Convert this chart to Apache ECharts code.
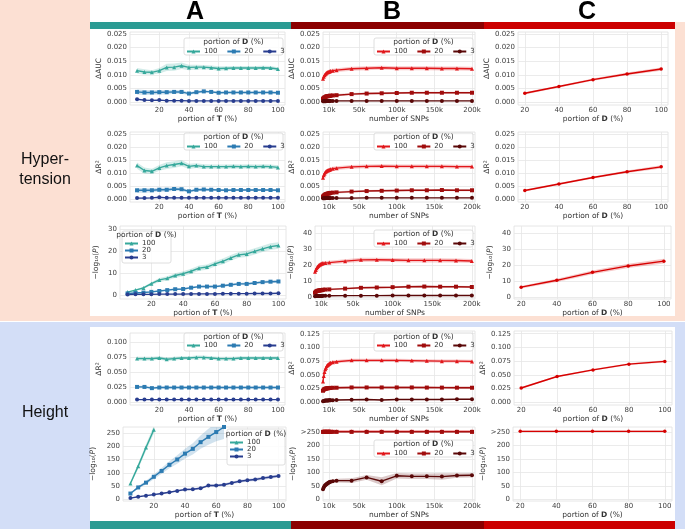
<!DOCTYPE html>
<html><head><meta charset="utf-8">
<script src="https://cdn.jsdelivr.net/npm/echarts@6/dist/echarts.min.js"></script>
<style>html,body{margin:0;padding:0;background:#fff}#c{width:685px;height:529px}</style>
</head><body><div id="c"></div><script>
// ---------------- DATA ----------------
const portionT = [5,10,15,20,25,30,35,40,45,50,55,60,65,70,75,80,85,90,95,100];
const snpsK = [2,3,4,5,6,7,8,9,10,11,12,15,20,40,60,80,100,120,140,160,180,200];
const portionD = [20,40,60,80,100];
const legendLabels = ['100','20','3'];
const xTicksT = [20,40,60,80,100];
const xTicksS = [10,50,100,150,200];
const xTicksD = [20,40,60,80,100];
const yTicksSmall = [0,0.005,0.01,0.015,0.02,0.025];
const yTicksP30 = [0,10,20,30];
const yTicksP40 = [0,10,20,30,40];
const yTicksH100 = [0,0.025,0.05,0.075,0.1];
const yTicksH125 = [0,0.025,0.05,0.075,0.1,0.125];
const yTicksHP = [0,50,100,150,200,250];

// Hypertension, column A (x = portion of T)
const aucA100 = [0.0115,0.0110,0.0109,0.0115,0.0127,0.0128,0.0133,0.0127,0.0128,0.0128,0.0126,0.0123,0.0124,0.0125,0.0125,0.0125,0.0125,0.0126,0.0125,0.0121];
const aucA100ci = [0.0010,0.0010,0.0008,0.0010,0.0013,0.0013,0.0012,0.0010,0.0009,0.0008,0.0008,0.0008,0.0007,0.0007,0.0007,0.0007,0.0007,0.0007,0.0007,0.0007];
const aucA20 = [0.0037,0.0035,0.0035,0.0036,0.0036,0.0037,0.0037,0.0031,0.0036,0.0039,0.0037,0.0034,0.0035,0.0035,0.0035,0.0035,0.0035,0.0035,0.0035,0.0034];
const aucA20ci = [0.0009,0.0009,0.0008,0.0008,0.0008,0.0007,0.0007,0.0005,0.0005,0.0005,0.0004,0.0004,0.0004,0.0004,0.0004,0.0004,0.0004,0.0004,0.0004,0.0004];
const aucA3 = [0.0010,0.0007,0.0006,0.0007,0.0005,0.0005,0.0005,0.0004,0.0004,0.0004,0.0004,0.0004,0.0004,0.0004,0.0004,0.0004,0.0004,0.0004,0.0004,0.0004];
const aucA3ci = [0.0003,0.0002,0.0002,0.0002,0.0002,0.0002,0.0002,0.0001,0.0001,0.0001,0.0001,0.0001,0.0001,0.0001,0.0001,0.0001,0.0001,0.0001,0.0001,0.0001];

const r2A100 = [0.0129,0.0110,0.0107,0.0120,0.0129,0.0133,0.0138,0.0126,0.0129,0.0125,0.0125,0.0125,0.0125,0.0126,0.0125,0.0126,0.0125,0.0126,0.0125,0.0122];
const r2A100ci = [0.0012,0.0012,0.0010,0.0011,0.0013,0.0013,0.0012,0.0010,0.0009,0.0009,0.0008,0.0008,0.0008,0.0008,0.0008,0.0008,0.0008,0.0008,0.0008,0.0008];
const r2A20 = [0.0034,0.0034,0.0034,0.0036,0.0036,0.0039,0.0038,0.0030,0.0036,0.0037,0.0036,0.0035,0.0034,0.0035,0.0035,0.0035,0.0035,0.0035,0.0035,0.0034];
const r2A20ci = [0.0009,0.0009,0.0008,0.0008,0.0008,0.0007,0.0007,0.0005,0.0005,0.0005,0.0004,0.0004,0.0004,0.0004,0.0004,0.0004,0.0004,0.0004,0.0004,0.0004];
const r2A3 = [0.0004,0.0004,0.0005,0.0007,0.0005,0.0005,0.0005,0.0005,0.0005,0.0005,0.0005,0.0005,0.0005,0.0005,0.0005,0.0005,0.0005,0.0005,0.0005,0.0005];
const r2A3ci = [0.0002,0.0002,0.0002,0.0002,0.0002,0.0002,0.0002,0.0001,0.0001,0.0001,0.0001,0.0001,0.0001,0.0001,0.0001,0.0001,0.0001,0.0001,0.0001,0.0001];

const pA100 = [1.5,2.4,3.4,5.3,7.0,7.7,9.0,9.8,10.9,12.3,12.8,14.2,15.4,16.9,18.3,18.7,19.9,21.0,22.0,22.5];
const pA100ci = [0.3,0.4,0.5,0.7,0.9,1.0,1.0,1.1,1.1,1.2,1.2,1.2,1.3,1.3,1.3,1.4,1.4,1.4,1.5,1.5];
const pA20 = [0.9,1.1,1.3,1.6,2.0,2.4,2.8,2.9,3.5,4.0,4.0,4.0,4.4,4.8,5.2,5.2,5.6,6.0,6.2,6.3];
const pA20ci = [0.2,0.2,0.3,0.3,0.3,0.4,0.4,0.4,0.4,0.5,0.5,0.5,0.5,0.5,0.5,0.6,0.6,0.6,0.6,0.6];
const pA3 = [0.4,0.5,0.5,0.5,0.6,0.6,0.6,0.6,0.7,0.7,0.7,0.7,0.8,0.8,0.8,0.8,0.9,0.9,0.9,1.0];
const pA3ci = [0.15,0.15,0.15,0.15,0.15,0.15,0.15,0.15,0.15,0.15,0.15,0.15,0.15,0.15,0.15,0.15,0.15,0.15,0.15,0.15];

// Height, column A
const hA100 = [0.073,0.073,0.073,0.074,0.072,0.073,0.074,0.074,0.075,0.075,0.074,0.073,0.073,0.073,0.074,0.074,0.074,0.074,0.074,0.074];
const hA100ci = [0.003,0.003,0.003,0.003,0.003,0.003,0.003,0.003,0.003,0.003,0.003,0.003,0.003,0.003,0.003,0.003,0.003,0.003,0.003,0.003];
const hA20 = [0.026,0.026,0.024,0.025,0.025,0.025,0.025,0.025,0.025,0.025,0.025,0.025,0.025,0.025,0.025,0.025,0.025,0.025,0.025,0.025];
const hA20ci = [0.002,0.002,0.002,0.002,0.002,0.002,0.002,0.002,0.002,0.002,0.002,0.002,0.002,0.002,0.002,0.002,0.002,0.002,0.002,0.002];
const hA3 = [0.005,0.005,0.005,0.005,0.005,0.005,0.005,0.005,0.005,0.005,0.005,0.005,0.005,0.005,0.005,0.005,0.005,0.005,0.005,0.005];
const hA3ci = [0.0007,0.0007,0.0007,0.0007,0.0007,0.0007,0.0007,0.0007,0.0007,0.0007,0.0007,0.0007,0.0007,0.0007,0.0007,0.0007,0.0007,0.0007,0.0007,0.0007];

const hpA100x = [5,10,15,20];
const hpA100 = [60,125,195,262];
const hpA100ci = [6,10,12,15];
const hpA20x = [5,10,15,20,25,30,35,40,45,50,55,60,65];
const hpA20 = [22,45,63,85,107,130,150,172,190,215,235,253,272];
const hpA20ci = [3,5,7,9,11,13,16,18,21,25,30,35,45];
const hpA3 = [5,10,14,18,22,27,32,37,38,42,52,52,55,62,68,72,75,80,84,88];
const hpA3ci = [1,1.5,2,2,2.5,3,3,3.5,3.5,4,4,4.5,4.5,5,5,5,5.5,6,6,6];

// Column B (x = number of SNPs, thousands)
const aucB100 = [0.0085,0.0093,0.0098,0.0102,0.0105,0.0107,0.0109,0.0110,0.0111,0.0112,0.0114,0.0115,0.0117,0.0122,0.0124,0.0126,0.0124,0.0124,0.0124,0.0123,0.0123,0.0122];
const aucB100ci = [0.0007,0.0007,0.0007,0.0007,0.0007,0.0007,0.0007,0.0007,0.0007,0.0007,0.0007,0.0007,0.0007,0.0007,0.0007,0.0007,0.0007,0.0007,0.0007,0.0007,0.0007,0.0007];
const aucB20 = [0.0012,0.0015,0.0017,0.0018,0.0020,0.0021,0.0021,0.0022,0.0022,0.0023,0.0023,0.0024,0.0025,0.0029,0.0031,0.0032,0.0033,0.0034,0.0034,0.0034,0.0034,0.0034];
const aucB20ci = [0.0004,0.0004,0.0004,0.0004,0.0004,0.0004,0.0004,0.0004,0.0004,0.0004,0.0004,0.0004,0.0004,0.0004,0.0004,0.0004,0.0004,0.0004,0.0004,0.0004,0.0004,0.0004];
const aucB3 = [0.0003,0.0003,0.0003,0.0003,0.0003,0.0004,0.0004,0.0004,0.0004,0.0004,0.0004,0.0004,0.0004,0.0004,0.0004,0.0004,0.0004,0.0004,0.0004,0.0004,0.0004,0.0004];
const aucB3ci = [0.0001,0.0001,0.0001,0.0001,0.0001,0.0001,0.0001,0.0001,0.0001,0.0001,0.0001,0.0001,0.0001,0.0001,0.0001,0.0001,0.0001,0.0001,0.0001,0.0001,0.0001,0.0001];

const r2B100 = [0.0082,0.0092,0.0098,0.0103,0.0106,0.0108,0.0110,0.0111,0.0112,0.0113,0.0115,0.0117,0.0119,0.0124,0.0126,0.0127,0.0126,0.0126,0.0126,0.0126,0.0125,0.0125];
const r2B100ci = [0.0008,0.0008,0.0007,0.0007,0.0007,0.0007,0.0007,0.0007,0.0007,0.0007,0.0007,0.0007,0.0007,0.0007,0.0007,0.0007,0.0007,0.0007,0.0007,0.0007,0.0007,0.0007];
const r2B20 = [0.0010,0.0013,0.0016,0.0018,0.0019,0.0020,0.0021,0.0022,0.0022,0.0023,0.0024,0.0025,0.0026,0.0029,0.0031,0.0032,0.0033,0.0034,0.0034,0.0035,0.0034,0.0034];
const r2B20ci = [0.0004,0.0004,0.0004,0.0004,0.0004,0.0004,0.0004,0.0004,0.0004,0.0004,0.0004,0.0004,0.0004,0.0004,0.0004,0.0004,0.0004,0.0004,0.0004,0.0004,0.0004,0.0004];
const r2B3 = [0.0003,0.0003,0.0003,0.0003,0.0004,0.0004,0.0004,0.0004,0.0004,0.0004,0.0004,0.0004,0.0004,0.0004,0.0005,0.0005,0.0005,0.0005,0.0005,0.0005,0.0005,0.0005];
const r2B3ci = [0.0001,0.0001,0.0001,0.0001,0.0001,0.0001,0.0001,0.0001,0.0001,0.0001,0.0001,0.0001,0.0001,0.0001,0.0001,0.0001,0.0001,0.0001,0.0001,0.0001,0.0001,0.0001];

const pB100 = [15.9,17.0,18.0,18.8,19.5,19.9,20.3,20.6,20.8,21.0,21.2,21.4,21.6,22.5,23.3,23.4,23.2,23.0,23.0,23.0,22.9,22.6];
const pB100ci = [1.2,1.2,1.2,1.2,1.2,1.2,1.2,1.2,1.2,1.2,1.2,1.2,1.2,1.2,1.3,1.3,1.3,1.3,1.3,1.3,1.3,1.3];
const pB20 = [2.7,3.3,3.7,3.9,4.0,4.1,4.2,4.3,4.3,4.4,4.6,4.7,4.8,5.3,5.8,6.0,6.2,6.5,6.6,6.5,6.5,6.3];
const pB20ci = [0.5,0.5,0.5,0.5,0.5,0.5,0.5,0.5,0.5,0.5,0.5,0.5,0.5,0.5,0.6,0.6,0.6,0.6,0.6,0.6,0.6,0.6];
const pB3 = [0.5,0.6,0.6,0.6,0.7,0.7,0.7,0.7,0.7,0.7,0.8,0.8,0.8,0.9,0.9,0.9,1.0,1.0,1.0,1.0,1.0,1.0];
const pB3ci = [0.15,0.15,0.15,0.15,0.15,0.15,0.15,0.15,0.15,0.15,0.15,0.15,0.15,0.15,0.15,0.15,0.15,0.15,0.15,0.15,0.15,0.15];

const hB100 = [0.038,0.048,0.055,0.060,0.063,0.066,0.068,0.069,0.070,0.071,0.072,0.073,0.074,0.0765,0.0765,0.0765,0.0765,0.076,0.0755,0.075,0.075,0.0745];
const hB100ci = [0.003,0.003,0.003,0.003,0.003,0.003,0.003,0.003,0.003,0.003,0.003,0.003,0.003,0.003,0.003,0.003,0.003,0.003,0.003,0.003,0.003,0.003];
const hB20 = [0.021,0.023,0.024,0.0245,0.025,0.0253,0.0255,0.0257,0.026,0.026,0.0262,0.0264,0.0265,0.027,0.027,0.027,0.027,0.027,0.0268,0.0267,0.0266,0.0265];
const hB20ci = [0.0025,0.0025,0.0025,0.0025,0.0025,0.0025,0.0025,0.0025,0.0025,0.0025,0.0025,0.0025,0.0025,0.0025,0.0025,0.0025,0.0025,0.0025,0.0025,0.0025,0.0025,0.0025];
const hB3 = [0.002,0.0025,0.0028,0.003,0.003,0.0032,0.0033,0.0034,0.0035,0.0035,0.0037,0.0038,0.004,0.0045,0.005,0.004,0.005,0.005,0.005,0.005,0.0055,0.0055];
const hB3ci = [0.0008,0.0008,0.0008,0.0008,0.0008,0.0008,0.0008,0.0008,0.0008,0.0008,0.0008,0.0008,0.0008,0.0008,0.0008,0.0008,0.0008,0.0008,0.0008,0.0008,0.0008,0.0008];

const hpB100 = [252,252,252,252,252,252,252,252,252,252,252,252,252,252,252,252,252,252,252,252,252,252];
const hpB100ci = [3,3,3,3,3,3,3,3,3,3,3,3,3,3,3,3,3,3,3,3,3,3];
const hpB20 = [250,250,250,250,250,250,250,250,250,250,250,250,250,250,250,250,250,250,250,250,250,250];
const hpB20ci = [2,2,2,2,2,2,2,2,2,2,2,2,2,2,2,2,2,2,2,2,2,2];
const hpB3 = [38,45,50,53,56,58,60,62,63,65,66,68,70,70,82,68,88,86,86,85,89,90];
const hpB3ci = [5,5,5,5,6,6,6,6,6,6,6,6,7,9,9,15,10,10,10,12,8,8];

// Column C (x = portion of D)
const aucC = [0.0032,0.0057,0.0082,0.0103,0.0121];
const aucCci = [0.0004,0.0004,0.0004,0.0005,0.0006];
const r2C = [0.0033,0.0058,0.0083,0.0105,0.0124];
const r2Cci = [0.0004,0.0004,0.0004,0.0005,0.0006];
const pC = [6.2,10.5,15.5,19.5,22.5];
const pCci = [0.8,1.0,1.2,1.3,1.5];
const hC = [0.026,0.047,0.059,0.0695,0.0745];
const hCci = [0.002,0.0015,0.0015,0.0015,0.002];
const hpC = [252,252,252,252,252];
const hpCci = [3,3,3,3,3];

// ---------------- STYLE ----------------
const F = 'DejaVu Sans';
const colA = ['#36a89b', '#2c7bb2', '#283d8f'];
const colB = ['#e1171b', '#a00c0c', '#5a0808'];
const colC = '#d60000';
const syms = ['triangle', 'rect', 'circle'];
const f3 = v => v.toFixed(3);
const fk = v => v + 'k';
const fHP = v => (v === 250 ? '>250' : String(v));
const NAME_T = 'portion of {b|T} (%)';
const NAME_D = 'portion of {b|D} (%)';
const NAME_S = 'number of SNPs';
const NAME_P = '\u2212log\u2081\u2080({i|P})';

const xrA = [0.25, 104.75], xrB = [2, 204], xrC = [16, 104];

const panels = [
 // Row 1
 {k:'A1', g:[130,32,155,73], xr:xrA, xt:xTicksT, xn:NAME_T, yr:[-0.0011,0.0257], yt:yTicksSmall, yf:f3, yn:'\u0394AUC', yg:25,
  sets:[[portionT,aucA100,aucA100ci],[portionT,aucA20,aucA20ci],[portionT,aucA3,aucA3ci]], cols:colA,
  leg:{box:[184,38,99,17], ty:42.5, left:186, top:48, orient:'horizontal'}},
 {k:'B1', g:[323,32,152,73], xr:xrB, xt:xTicksS, xf:fk, xn:NAME_S, yr:[-0.0011,0.0257], yt:yTicksSmall, yf:f3, yn:'\u0394AUC', yg:23,
  sets:[[snpsK,aucB100,aucB100ci],[snpsK,aucB20,aucB20ci],[snpsK,aucB3,aucB3ci]], cols:colB,
  leg:{box:[374,38,99,17], ty:42.5, left:376, top:48, orient:'horizontal'}},
 {k:'C1', g:[518,32,150,73], xr:xrC, xt:xTicksD, xn:NAME_D, yr:[-0.0011,0.0257], yt:yTicksSmall, yf:f3, yn:'\u0394AUC', yg:26,
  sets:[[portionD,aucC,aucCci]], cols:[colC]},
 // Row 2
 {k:'A2', g:[130,132,155,70], xr:xrA, xt:xTicksT, xn:NAME_T, yr:[-0.0011,0.0258], yt:yTicksSmall, yf:f3, yn:'\u0394R\u00b2', yg:25,
  sets:[[portionT,r2A100,r2A100ci],[portionT,r2A20,r2A20ci],[portionT,r2A3,r2A3ci]], cols:colA,
  leg:{box:[184,133,99,17], ty:137.5, left:186, top:143, orient:'horizontal'}},
 {k:'B2', g:[323,132,152,70], xr:xrB, xt:xTicksS, xf:fk, xn:NAME_S, yr:[-0.0011,0.0258], yt:yTicksSmall, yf:f3, yn:'\u0394R\u00b2', yg:23,
  sets:[[snpsK,r2B100,r2B100ci],[snpsK,r2B20,r2B20ci],[snpsK,r2B3,r2B3ci]], cols:colB,
  leg:{box:[374,133,99,17], ty:137.5, left:376, top:143, orient:'horizontal'}},
 {k:'C2', g:[518,132,150,70], xr:xrC, xt:xTicksD, xn:NAME_D, yr:[-0.0011,0.0258], yt:yTicksSmall, yf:f3, yn:'\u0394R\u00b2', yg:26,
  sets:[[portionD,r2C,r2Cci]], cols:[colC]},
 // Row 3
 {k:'A3', g:[120,226,166,73], xr:xrA, xt:xTicksT, xn:NAME_T, yr:[-1.6,31.3], yt:yTicksP30, yn:NAME_P, yg:20,
  sets:[[portionT,pA100,pA100ci],[portionT,pA20,pA20ci],[portionT,pA3,pA3ci]], cols:colA,
  leg:{box:[122,231,49,32], ty:235.5, left:124, top:240, orient:'vertical'}},
 {k:'B3', g:[315,226,160,73], xr:xrB, xt:xTicksS, xf:fk, xn:NAME_S, yr:[-1.2,44.5], yt:yTicksP40, yn:NAME_P, yg:20,
  sets:[[snpsK,pB100,pB100ci],[snpsK,pB20,pB20ci],[snpsK,pB3,pB3ci]], cols:colB,
  leg:{box:[374,230,99,17], ty:234.5, left:376, top:240, orient:'horizontal'}},
 {k:'C3', g:[514,226,157,73], xr:xrC, xt:xTicksD, xn:NAME_D, yr:[-1.2,44.5], yt:yTicksP40, yn:NAME_P, yg:20,
  sets:[[portionD,pC,pCci]], cols:[colC]},
 // Row 4
 {k:'A4', g:[130,333,155,72], xr:xrA, xt:xTicksT, xn:NAME_T, yr:[-0.004,0.1155], yt:yTicksH100, yf:f3, yn:'\u0394R\u00b2', yg:25,
  sets:[[portionT,hA100,hA100ci],[portionT,hA20,hA20ci],[portionT,hA3,hA3ci]], cols:colA,
  leg:{box:[184,333,99,18], ty:337, left:186, top:342, orient:'horizontal'}},
 {k:'B4', g:[323,331,152,74], xr:xrB, xt:xTicksS, xf:fk, xn:NAME_S, yr:[-0.005,0.130], yt:yTicksH125, yf:f3, yn:'\u0394R\u00b2', yg:23,
  sets:[[snpsK,hB100,hB100ci],[snpsK,hB20,hB20ci],[snpsK,hB3,hB3ci]], cols:colB,
  leg:{box:[374,333,99,18], ty:337, left:376, top:342, orient:'horizontal'}},
 {k:'C4', g:[514,331,158,74], xr:xrC, xt:xTicksD, xn:NAME_D, yr:[-0.005,0.130], yt:yTicksH125, yf:f3, yn:'\u0394R\u00b2', yg:24,
  sets:[[portionD,hC,hCci]], cols:[colC]},
 // Row 5
 {k:'A5', g:[123,427,163,74], xr:xrA, xt:xTicksT, xn:NAME_T, yr:[-6,272], yt:yTicksHP, yn:NAME_P, yg:26,
  sets:[[hpA100x,hpA100,hpA100ci],[hpA20x,hpA20,hpA20ci],[portionT,hpA3,hpA3ci]], cols:colA,
  leg:{box:[227,429,58,36], ty:434.5, left:229, top:439, orient:'vertical'}},
 {k:'B5', g:[323,427,152,74], xr:xrB, xt:xTicksS, xf:fk, xn:NAME_S, yr:[-5,268], yt:yTicksHP, yf:fHP, yn:NAME_P, yg:26,
  sets:[[snpsK,hpB100,hpB100ci],[snpsK,hpB20,hpB20ci],[snpsK,hpB3,hpB3ci]], cols:colB,
  leg:{box:[374,440,99,17], ty:444.5, left:376, top:450, orient:'horizontal'}},
 {k:'C5', g:[513,427,159,74], xr:xrC, xt:xTicksD, xn:NAME_D, yr:[-5,268], yt:yTicksHP, yf:fHP, yn:NAME_P, yg:26,
  sets:[[portionD,hpC,hpCci]], cols:[colC]}
];

// ---------------- BUILD ----------------
const labelStyle = {fontSize:7, color:'#404040', fontFamily:F};
const nameStyle = {fontSize:7.5, color:'#333', fontFamily:F,
  rich:{b:{fontSize:7.5, fontWeight:'bold', color:'#333', fontFamily:F},
        i:{fontSize:7.5, fontStyle:'italic', color:'#333', fontFamily:F}}};
const gridLine = {show:true, lineStyle:{color:'#e6e6e6', width:0.8}};

const option = {animation:false, grid:[], xAxis:[], yAxis:[], series:[], legend:[], graphic:{elements:[]}};
const G = option.graphic.elements;

// backgrounds & frames
G.push({type:'rect', z:-100, shape:{x:0,y:0,width:685,height:321}, style:{fill:'#fce0d3'}});
G.push({type:'rect', z:-100, shape:{x:0,y:322,width:685,height:207}, style:{fill:'#d3def7'}});
G.push({type:'rect', z:-99, shape:{x:90,y:0,width:595,height:22}, style:{fill:'#ffffff'}});
G.push({type:'rect', z:-99, shape:{x:90,y:29,width:585,height:287}, style:{fill:'#ffffff'}});
G.push({type:'rect', z:-99, shape:{x:90,y:327,width:585,height:194}, style:{fill:'#ffffff'}});
const bars = [[90,201,'#2b9b93'],[291,193,'#8b0000'],[484,191,'#cc0000']];
bars.forEach(b => {
  G.push({type:'rect', z:-98, shape:{x:b[0],y:22,width:b[1],height:7}, style:{fill:b[2]}});
  G.push({type:'rect', z:-98, shape:{x:b[0],y:521,width:b[1],height:8}, style:{fill:b[2]}});
});
[['A',195],['B',392],['C',587]].forEach(h => {
  G.push({type:'text', z:5, x:h[1], y:12, style:{text:h[0], fontSize:25, fontWeight:'bold', fontFamily:'Liberation Sans', fill:'#000', textAlign:'center', textVerticalAlign:'middle'}});
});
G.push({type:'text', z:5, x:45, y:170, style:{text:'Hyper-\ntension', fontSize:16, fontFamily:'Liberation Sans', fill:'#111', textAlign:'center', textVerticalAlign:'middle', lineHeight:20}});
G.push({type:'text', z:5, x:45, y:413, style:{text:'Height', fontSize:16, fontFamily:'Liberation Sans', fill:'#111', textAlign:'center', textVerticalAlign:'middle'}});

function bandSeries(gi, xs, ys, ci, color) {
  const pts = xs.map((x, i) => [x, ys[i] - ci[i], ys[i] + ci[i]]);
  return {
    type:'custom', xAxisIndex:gi, yAxisIndex:gi, clip:true, silent:true, z:1,
    data: pts, encode:{x:0, y:[1,2]},
    renderItem(params, api) {
      if (params.dataIndex !== 0) return null;
      const up = pts.map(p => api.coord([p[0], p[2]]));
      const lo = pts.map(p => api.coord([p[0], p[1]])).reverse();
      return {type:'polygon', shape:{points: up.concat(lo)}, style:{fill: color, opacity: 0.22}};
    }
  };
}

panels.forEach((p, gi) => {
  option.grid.push({left:p.g[0], top:p.g[1], width:p.g[2], height:p.g[3], show:true,
    borderColor:'#e0e0e0', borderWidth:0.8, backgroundColor:'rgba(255,255,255,0)'});
  const xLab = Object.assign({customValues:p.xt, margin:2}, labelStyle);
  if (p.xf) xLab.formatter = p.xf;
  option.xAxis.push({type:'value', gridIndex:gi, min:p.xr[0], max:p.xr[1],
    name:p.xn, nameLocation:'middle', nameGap:10, nameTextStyle:nameStyle,
    axisLine:{show:false}, axisTick:{show:false, customValues:p.xt}, axisLabel:xLab, splitLine:gridLine});
  const yLab = Object.assign({customValues:p.yt, margin:3}, labelStyle);
  if (p.yf) yLab.formatter = p.yf;
  option.yAxis.push({type:'value', gridIndex:gi, min:p.yr[0], max:p.yr[1],
    name:p.yn, nameLocation:'middle', nameGap:p.yg, nameRotate:90, nameTextStyle:nameStyle,
    axisLine:{show:false}, axisTick:{show:false, customValues:p.yt}, axisLabel:yLab, splitLine:gridLine});
  const names = [];
  p.sets.forEach((s, j) => {
    const col = p.cols[j];
    option.series.push(bandSeries(gi, s[0], s[1], s[2], col));
    const nm = p.k + '_' + legendLabels[j];
    names.push(nm);
    option.series.push({type:'line', name:nm, xAxisIndex:gi, yAxisIndex:gi, z:3,
      data: s[0].map((x, i) => [x, s[1][i]]),
      symbol: p.cols.length === 1 ? 'circle' : syms[j], symbolSize: p.cols.length === 1 ? 3.5 : 4,
      showSymbol:true, clip:true,
      lineStyle:{width:1.4, color:col}, itemStyle:{color:col}, emphasis:{disabled:true}});
  });
  if (p.leg) {
    const L = p.leg;
    G.push({type:'rect', z:10, shape:{x:L.box[0], y:L.box[1], width:L.box[2], height:L.box[3], r:2},
      style:{fill:'rgba(255,255,255,0.85)', stroke:'#d6d6d6', lineWidth:0.8}});
    G.push({type:'text', z:11, x:L.box[0] + L.box[2] / 2, y:L.ty,
      style:{text:'portion of {b|D} (%)', fontSize:7.5, fontFamily:F, fill:'#333', textAlign:'center', textVerticalAlign:'middle',
        rich:{b:{fontSize:7.5, fontWeight:'bold', fontFamily:F, fill:'#333'}}}});
    option.legend.push({data:names, left:L.left, top:L.top, orient:L.orient, z:20,
      itemWidth:13, itemHeight:5, itemGap: L.orient === 'vertical' ? 0 : 9, padding:0,
      selectedMode:false, formatter: n => n.split('_')[1],
      textStyle:{fontSize:7, color:'#333', fontFamily:F, padding:[0,0,0,-1]}});
  }
});

const chart = echarts.init(document.getElementById('c'), null, {renderer:'canvas'});
chart.setOption(option);
</script></body></html>
